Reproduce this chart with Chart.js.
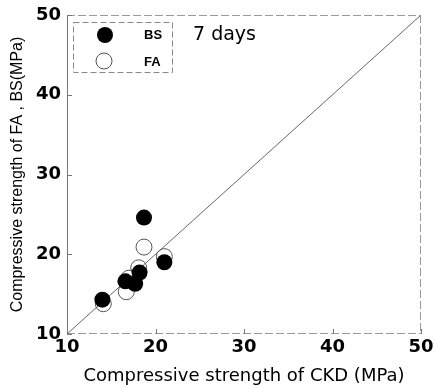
<!DOCTYPE html>
<html>
<head>
<meta charset="utf-8">
<script src="https://cdn.jsdelivr.net/npm/chart.js@4/dist/chart.umd.min.js"></script>
<style>
  html, body { margin: 0; padding: 0; background: #fff; }
  #wrap { width: 434px; height: 388px; position: relative; }
</style>
</head>
<body>
<div id="wrap"><canvas id="c" width="434" height="388"></canvas></div>
<script>
// ---- data ----
const seriesNames = ["BS", "FA"];
const bsX = [14.0, 16.6, 17.7, 18.2, 18.7, 21.0];
const bsY = [14.3, 16.6, 16.3, 17.7, 24.6, 19.0];
const faX = [14.1, 16.7, 17.0, 18.1, 18.7, 21.0];
const faY = [13.8, 15.3, 17.0, 18.3, 20.9, 19.7];
const lineX = [10, 50];
const lineY = [10, 50];
const tickValues = [10, 20, 30, 40, 50];
const annotationText = "7 days";
const xTitle = "Compressive strength of CKD (MPa)";
const yTitle = "Compressive strength of FA , BS(MPa)";

const toPts = (xs, ys) => xs.map((x, i) => ({x: x, y: ys[i]}));

const framePlugin = {
  id: 'frame',
  afterDatasetsDraw(chart) {
    const {ctx, chartArea: a, scales} = chart;
    ctx.save();
    ctx.lineWidth = 1;
    ctx.strokeStyle = '#777';
    ctx.beginPath();
    ctx.moveTo(a.left + 0.5, a.top); ctx.lineTo(a.left + 0.5, a.bottom);
    ctx.stroke();
    ctx.strokeStyle = '#999';
    ctx.setLineDash([8, 3]);
    ctx.beginPath();
    ctx.moveTo(a.left, a.top + 0.5); ctx.lineTo(a.right, a.top + 0.5);
    ctx.moveTo(a.right - 0.5, a.top); ctx.lineTo(a.right - 0.5, a.bottom);
    ctx.moveTo(a.left, a.bottom - 0.5); ctx.lineTo(a.right, a.bottom - 0.5);
    ctx.stroke();
    ctx.setLineDash([]);
    ctx.strokeStyle = '#777';
    ctx.beginPath();
    tickValues.forEach(v => {
      const px = Math.round(scales.x.getPixelForValue(v)) + 0.5;
      ctx.moveTo(px, a.bottom); ctx.lineTo(px, a.bottom - 5);
      const py = Math.round(scales.y.getPixelForValue(v)) + 0.5;
      ctx.moveTo(a.left, py); ctx.lineTo(a.left + 5, py);
    });
    ctx.stroke();

    // legend box
    const bx = 73, by = 22, bw = 99, bh = 50;
    ctx.strokeStyle = '#888';
    ctx.setLineDash([6, 3]);
    ctx.strokeRect(bx + 0.5, by + 0.5, bw, bh);
    ctx.setLineDash([]);
    ctx.fillStyle = '#000';
    ctx.beginPath(); ctx.arc(105, 35, 8, 0, Math.PI * 2); ctx.fill();
    ctx.strokeStyle = '#555';
    ctx.beginPath(); ctx.arc(104, 61, 8, 0, Math.PI * 2); ctx.stroke();
    ctx.fillStyle = '#000';
    ctx.font = 'bold 13px "Liberation Sans", Arial, sans-serif';
    ctx.textAlign = 'left';
    ctx.textBaseline = 'middle';
    ctx.fillText(seriesNames[0], 144, 35);
    ctx.fillText(seriesNames[1], 144, 62);
    ctx.font = '19px "DejaVu Sans", sans-serif';
    ctx.fillText(annotationText, 193, 35);
    ctx.restore();
  }
};

new Chart(document.getElementById('c'), {
  type: 'scatter',
  data: {
    datasets: [
      { label: seriesNames[0], data: toPts(bsX, bsY), order: 0,
        pointRadius: 8, pointHoverRadius: 8, backgroundColor: '#000', borderColor: '#000', borderWidth: 0 },
      { label: seriesNames[1], data: toPts(faX, faY), order: 1,
        pointRadius: 8, pointHoverRadius: 8, backgroundColor: 'rgba(255,255,255,0)', borderColor: '#555', borderWidth: 1 },
      { type: 'line', label: 'line', data: toPts(lineX, lineY), order: 2,
        borderColor: '#666', borderWidth: 1, pointRadius: 0, fill: false }
    ]
  },
  options: {
    responsive: false,
    animation: false,
    events: [],
    layout: { padding: { left: 0, top: 15, right: 13, bottom: 0 } },
    plugins: { legend: { display: false }, tooltip: { enabled: false } },
    scales: {
      x: {
        type: 'linear', min: 10, max: 50,
        afterFit: s => { s.height = 54; s.paddingLeft = 0; s.paddingRight = 0; },
        afterBuildTicks: s => { s.ticks = tickValues.map(v => ({value: v})); },
        grid: { display: false, drawTicks: false },
        border: { display: false },
        ticks: { color: '#000', padding: 3, font: { family: '"DejaVu Sans", sans-serif', size: 18, weight: 'bold' } },
        title: { display: true, text: xTitle, color: '#000', padding: { top: 0, bottom: 1 },
                 font: { family: '"DejaVu Sans", sans-serif', size: 18 } }
      },
      y: {
        type: 'linear', min: 10, max: 50,
        afterFit: s => { s.width = 67; s.paddingTop = 0; s.paddingBottom = 0; },
        afterBuildTicks: s => { s.ticks = tickValues.map(v => ({value: v})); },
        grid: { display: false, drawTicks: false },
        border: { display: false },
        ticks: { color: '#000', padding: 6, font: { family: '"DejaVu Sans", sans-serif', size: 18, weight: 'bold' } },
        title: { display: true, text: yTitle, color: '#000', padding: { top: 8, bottom: 0 },
                 font: { family: '"Liberation Sans", Arial, sans-serif', size: 16 } }
      }
    }
  },
  plugins: [framePlugin]
});
</script>
</body>
</html>
